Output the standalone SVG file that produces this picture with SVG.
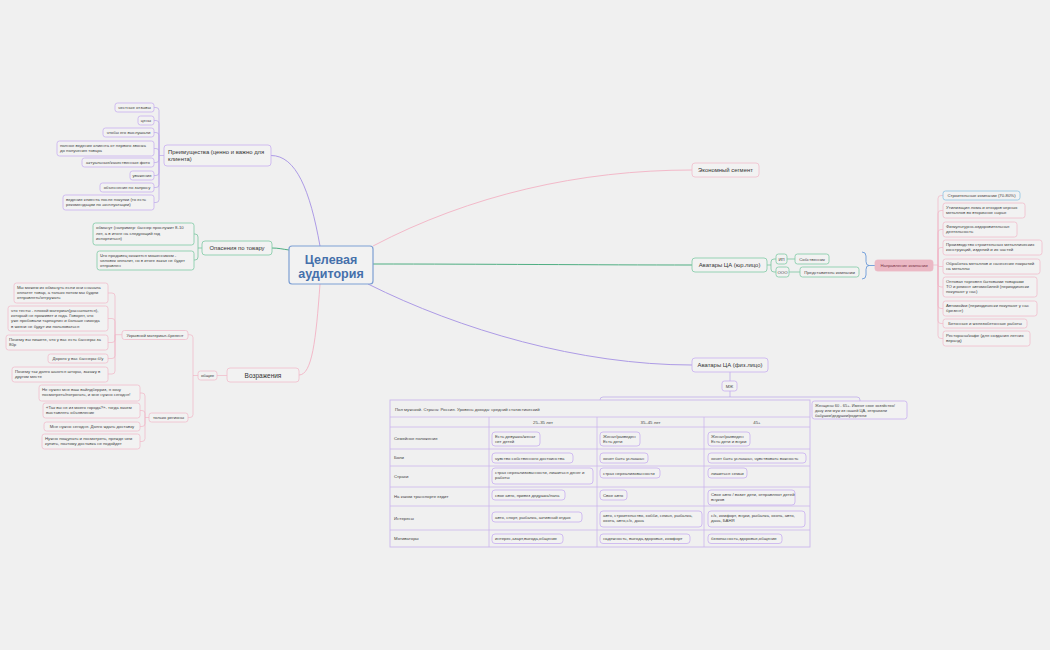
<svg xmlns="http://www.w3.org/2000/svg" width="1050" height="650" viewBox="0 0 1050 650">
<style>
text{font-family:"Liberation Sans",Arial,sans-serif;fill:#444;stroke:none}
.t{font-size:4.3px}
.m{font-size:5.9px;fill:#333}
.c{text-anchor:middle}
rect{fill:#f2f2f2;stroke-width:.8}
.p{stroke:#c8aef0}
.g{stroke:#7fcaa4}
.k{stroke:#f1bccb}
.b{stroke:#8cc3e3}
.lp{fill:none;stroke:#b9a5ea;stroke-width:.7}
.lg{fill:none;stroke:#6cbf95;stroke-width:.7}
.lk{fill:none;stroke:#f0b6c6;stroke-width:.7}
.Lp{fill:none;stroke:#ad9be6;stroke-width:1}
.Lg{fill:none;stroke:#4fae82;stroke-width:1}
.Lk{fill:none;stroke:#f3b9c9;stroke-width:1}
.tb{fill:none;stroke:#cbb6ec;stroke-width:.8}
</style>
<rect x="0" y="0" width="1050" height="650" style="fill:#f0f0f0;stroke:none"/>

<g id="connectors">
<path class="Lp" d="M271,155.5C296,155.5 310,190 320,246"/>
<path class="Lg" d="M289,250C282,249 278,248 272,248"/>
<path class="Lk" d="M320,284C316,340 312,375 299,375"/>
<path class="Lk" d="M373,246C470,195 580,170 692,170"/>
<path class="Lg" d="M373,264C480,264 600,265 692,265"/>
<path class="Lp" d="M368,284C460,330 580,365 692,365"/>
<g class="lp">
<path d="M164,155.5H159M159,155.5V110.5Q159,107.5 156,107.5H154M159,155.5V123.5Q159,120.5 156,120.5H154M159,155.5V135.5Q159,132.5 156,132.5H154M159,155.5V151.5Q159,148.5 156,148.5H154M159,155.5V159.5Q159,162.5 156,162.5H154M159,155.5V172.5Q159,175.5 156,175.5H154M159,155.5V184.5Q159,187.5 156,187.5H154M159,155.5V199.5Q159,202.5 156,202.5H154"/>
<path d="M730,372V381M730,391V397M600,400Q600,397 603,397H857Q860,397 860,400V401"/>
</g>
<g class="lg">
<path d="M202,248H198M198,248V237Q198,234 195,234H194M198,248V257Q198,260 195,260H194"/>
<path d="M767,265H771M771,265V262Q771,259 774,259H776M771,265V269Q771,272 774,272H776M787,259H795M789,272H800"/>
</g>
<g class="lk">
<path d="M227,375.5H217"/>
<path d="M198,375.5H193M193,375.5V337.7Q193,334.7 190,334.7H188M193,375.5V414.5Q193,417.5 190,417.5H188"/>
<path d="M122,334.7H115M115,334.7V296Q115,293 112,293H108M115,334.7V321.5Q115,318.5 112,318.5H108M115,334.7V339.5Q115,342.5 112,342.5H108M115,334.7V355.5Q115,358.5 112,358.5H108M115,334.7V371Q115,374 112,374H108"/>
<path d="M149,417.5H145M145,417.5V396Q145,393 142,393H140M145,417.5V413.5Q145,410.5 142,410.5H140M145,417.5V423.5Q145,426.5 142,426.5H140M145,417.5V438.5Q145,441.5 142,441.5H140"/>
<path d="M933,265H938M938,265V198.5Q938,195.5 941,195.5H943M938,265V213.5Q938,210.5 941,210.5H943M938,265V232.5Q938,229.5 941,229.5H943M938,265V250.5Q938,247.5 941,247.5H943M938,265V266.5H943M938,265V284Q938,287 941,287H943M938,265V305.5Q938,308.5 941,308.5H943M938,265V320.5Q938,323.5 941,323.5H943M938,265V335.5Q938,338.5 941,338.5H943"/>
</g>
<path d="M862,252Q866,252 866,256V261.5Q866,265.5 869,265.5Q866,265.5 866,269.5V275Q866,279 862,279M869,265.5H875" fill="none" stroke="#5b8fd6" stroke-width=".8"/>
</g>

<g id="center">
<rect x="289" y="246" width="84" height="38" rx="3" style="stroke:#7d9fd3;stroke-width:1.2"/>
<text x="331" y="264" class="c" style="font-size:12.5px;font-weight:bold;fill:#4570ab">Целевая</text>
<text x="331" y="278" class="c" style="font-size:12.5px;font-weight:bold;fill:#4570ab">аудитория</text>
</g>

<g id="advantages">
<rect class="p" x="164" y="145" width="107" height="21" rx="3"/>
<text class="m" x="168" y="153.5">Преимущества (ценно и важно для</text>
<text class="m" x="168" y="161">клиента)</text>
</g>
<g id="adv1"><rect class="p" x="115" y="103" width="39" height="9" rx="2.5"/><text class="t c" x="134.5" y="109.3">честные отзывы</text></g>
<g id="adv2"><rect class="p" x="138" y="116" width="16" height="9" rx="2.5"/><text class="t c" x="146" y="122.3">цены</text></g>
<g id="adv3"><rect class="p" x="103" y="128" width="51" height="9" rx="2.5"/><text class="t c" x="128.5" y="134.3">чтобы его выслушали</text></g>
<g id="adv4"><rect class="p" x="57" y="141" width="97" height="15" rx="2.5"/><text class="t" x="60" y="146.6">полное ведение клиента от первого звонка</text><text class="t" x="60" y="151.9">до получения товара</text></g>
<g id="adv5"><rect class="p" x="82" y="158" width="72" height="9" rx="2.5"/><text class="t c" x="118" y="164.3">актуальные/качественные фото</text></g>
<g id="adv6"><rect class="p" x="130" y="171" width="24" height="9" rx="2.5"/><text class="t c" x="142" y="177.3">уважение</text></g>
<g id="adv7"><rect class="p" x="100" y="183" width="54" height="9" rx="2.5"/><text class="t c" x="127" y="189.3">объяснения по запросу</text></g>
<g id="adv8"><rect class="p" x="63" y="195" width="91" height="15" rx="2.5"/><text class="t" x="66" y="200.6">ведение клиента после покупки (то есть</text><text class="t" x="66" y="205.9">рекомендации по эксплуатации)</text></g>

<g id="fears">
<rect class="g" x="202" y="241" width="70" height="14" rx="3"/>
<text class="m c" x="237" y="250.2">Опасения по товару</text>
</g>
<g id="fear1"><rect class="g" x="93" y="223" width="101" height="22" rx="2.5"/><text class="t" x="96" y="229.3">обманут (например: баннер прослужит 8-10</text><text class="t" x="96" y="234.6">лет, а в итоге на следующий год</text><text class="t" x="96" y="239.9">испортиться)</text></g>
<g id="fear2"><rect class="g" x="97" y="251" width="97" height="19" rx="2.5"/><text class="t" x="100" y="256.8">Что продавец окажется мошенником -</text><text class="t" x="100" y="262.1">человек оплатит, но в итоге заказ не будет</text><text class="t" x="100" y="267.4">отправлен</text></g>

<g id="objections">
<rect class="k" x="227" y="368" width="72" height="14" rx="3"/>
<text class="c" x="263" y="377.5" style="font-size:6.5px;fill:#333">Возражения</text>
</g>
<g id="general"><rect class="k" x="198" y="371" width="19" height="9" rx="2.5"/><text class="t c" x="207.5" y="377.3">общие</text></g>
<g id="tarp"><rect class="k" x="122" y="330.5" width="66" height="9" rx="2.5"/><text class="t c" x="155" y="336.8">Укрывной материал-брезент</text></g>
<g id="regions"><rect class="k" x="149" y="413" width="39" height="9" rx="2.5"/><text class="t c" x="168.5" y="419.3">только регионы</text></g>
<g id="tarp1"><rect class="k" x="14" y="283" width="94" height="20" rx="2.5"/><text class="t" x="17" y="288.8">Мы можем их обмануть если они сначала</text><text class="t" x="17" y="294.1">оплатят товар, а только потом мы будем</text><text class="t" x="17" y="299.4">отправлять/отгружать</text></g>
<g id="tarp2"><rect class="k" x="8" y="306" width="100" height="25" rx="2.5"/><text class="t" x="11" y="311.8">что тенты - плохой материал(рассыпается),</text><text class="t" x="11" y="317.1">который не проживет и года. Говорят, что</text><text class="t" x="11" y="322.4">уже пробовали тарпаулин и больше никогда</text><text class="t" x="11" y="327.7">в жизни не будут им пользоваться</text></g>
<g id="tarp3"><rect class="k" x="6" y="335" width="102" height="15" rx="2.5"/><text class="t" x="9" y="340.6">Почему вы пишете, что у вас есть баннеры за</text><text class="t" x="9" y="345.9">80р</text></g>
<g id="tarp4"><rect class="k" x="48" y="354" width="60" height="9" rx="2.5"/><text class="t c" x="78" y="360.3">Дорого у вас баннеры б/у</text></g>
<g id="tarp5"><rect class="k" x="12" y="367" width="96" height="15" rx="2.5"/><text class="t" x="15" y="372.6">Почему так долго шьются шторы, закажу в</text><text class="t" x="15" y="377.9">другом месте</text></g>
<g id="reg1"><rect class="k" x="39" y="385" width="101" height="16" rx="2.5"/><text class="t" x="42" y="391">Не нужен мне ваш вайлдберриз, я хочу</text><text class="t" x="42" y="396.3">посмотреть/потрогать, и мне нужно сегодня!</text></g>
<g id="reg2"><rect class="k" x="43" y="403" width="97" height="15" rx="2.5"/><text class="t" x="46" y="408.6">«Так вы не из моего города?»- тогда зачем</text><text class="t" x="46" y="413.9">выставлять объявление</text></g>
<g id="reg3"><rect class="k" x="44" y="422" width="96" height="9" rx="2.5"/><text class="t c" x="92" y="428.3">Мне нужно сегодня. Долго ждать доставку</text></g>
<g id="reg4"><rect class="k" x="42" y="434" width="98" height="15" rx="2.5"/><text class="t" x="45" y="439.6">Нужно пощупать и посмотреть, прежде чем</text><text class="t" x="45" y="444.9">купить, поэтому доставка не подойдет</text></g>

<g id="economy"><rect class="k" x="692" y="163" width="67" height="14" rx="3"/><text class="m c" x="725.5" y="172.2">Экономный сегмент</text></g>

<g id="legal"><rect class="g" x="692" y="258" width="75" height="14" rx="3"/><text class="m c" x="729.5" y="267.2">Аватары ЦА (юр.лицо)</text></g>
<g id="ip"><rect class="g" x="776" y="254" width="11" height="10" rx="2.5"/><text class="t c" x="781.5" y="260.6">ИП</text></g>
<g id="ooo"><rect class="g" x="776" y="267" width="13" height="10" rx="2.5"/><text class="t c" x="782.5" y="273.6">ООО</text></g>
<g id="owner"><rect class="g" x="795" y="254" width="34" height="10" rx="2.5"/><text class="t c" x="812" y="260.6">Собственник</text></g>
<g id="rep"><rect class="g" x="800" y="267" width="59" height="10" rx="2.5"/><text class="t c" x="829.5" y="273.6">Представитель компании</text></g>

<g id="direction"><rect x="875" y="260" width="58" height="11" rx="2.5" style="fill:#ebb8c4;stroke:#ebb8c4"/><text class="t c" x="904" y="267" style="fill:#7a3445">Направление компании</text></g>
<g id="dir1"><rect class="b" x="943" y="191" width="77" height="9" rx="2.5"/><text class="t c" x="981.5" y="197.3">Строительные компании (70-80%)</text></g>
<g id="dir2"><rect class="k" x="943" y="203" width="82" height="15" rx="2.5"/><text class="t" x="946" y="208.6">Утилизация лома и отходов черных</text><text class="t" x="946" y="213.9">металлов во вторичное сырье</text></g>
<g id="dir3"><rect class="k" x="943" y="222" width="74" height="15" rx="2.5"/><text class="t" x="946" y="227.6">Физкультурно-оздоровительная</text><text class="t" x="946" y="232.9">деятельность</text></g>
<g id="dir4"><rect class="k" x="943" y="240" width="99" height="15" rx="2.5"/><text class="t" x="946" y="245.6">Производство строительных металлических</text><text class="t" x="946" y="250.9">конструкций, изделий и их частей</text></g>
<g id="dir5"><rect class="k" x="943" y="259" width="97" height="15" rx="2.5"/><text class="t" x="946" y="264.6">Обработка металлов и нанесение покрытий</text><text class="t" x="946" y="269.9">на металлы</text></g>
<g id="dir6"><rect class="k" x="943" y="277" width="94" height="20" rx="2.5"/><text class="t" x="946" y="282.8">Оптовая торговля бытовыми товарами</text><text class="t" x="946" y="288.1">ТО и ремонт автомобилей (периодически</text><text class="t" x="946" y="293.4">покупают у нас)</text></g>
<g id="dir7"><rect class="k" x="943" y="301" width="94" height="15" rx="2.5"/><text class="t" x="946" y="306.6">Автомойки (периодически покупают у нас</text><text class="t" x="946" y="311.9">брезент)</text></g>
<g id="dir8"><rect class="k" x="943" y="319" width="84" height="9" rx="2.5"/><text class="t c" x="985" y="325.3">Бетонные и железобетонные работы</text></g>
<g id="dir9"><rect class="k" x="943" y="331" width="87" height="15" rx="2.5"/><text class="t" x="946" y="336.6">Рестораны/кафе (для создания летних</text><text class="t" x="946" y="341.9">веранд)</text></g>

<g id="physical"><rect class="p" x="692" y="358" width="76" height="14" rx="3"/><text class="m c" x="730" y="367.2">Аватары ЦА (физ.лицо)</text></g>
<g id="mzh"><rect class="p" x="722" y="381" width="15" height="10" rx="2.5"/><text class="t c" x="729.5" y="387.6">МЖ</text></g>
<g id="women"><rect class="p" x="812" y="401" width="95" height="18" rx="2.5"/><text class="t" x="815" y="406.6" style="font-size:4px">Женщины 60 - 65+. Имеют свое хозяйство/</text><text class="t" x="815" y="411.6" style="font-size:4px">дачу или муж из нашей ЦА, отправили</text><text class="t" x="815" y="416.6" style="font-size:4px">бабушки/дедушки/родители</text></g>

<g id="table">
<rect x="390" y="400" width="420" height="147" style="fill:#f0f0f0;stroke:#cbb6ec;stroke-width:.9"/>
<path class="tb" d="M390,417H810M390,427H810M390,449H810M390,466H810M390,487H810M390,506H810M390,530H810M489,417V547M597,417V547M704,417V547"/>
<text class="t" x="395" y="410.5">Пол мужской. Страна: Россия. Уровень дохода: средний статистический</text>
<text class="t c" x="543" y="423.8">25–35 лет</text>
<text class="t c" x="650.5" y="423.8">35–45 лет</text>
<text class="t c" x="757" y="423.8">45+</text>
<text class="t" x="394" y="439.5">Семейное положение</text>
<text class="t" x="394" y="459">Боли</text>
<text class="t" x="394" y="478">Страхи</text>
<text class="t" x="394" y="498">На каком транспорте ездит</text>
<text class="t" x="394" y="519.5">Интересы</text>
<text class="t" x="394" y="540">Мотиваторы</text>
<g id="cells">
<rect class="p" x="492" y="432" width="48" height="14" rx="3"/><text class="t" x="495" y="437.7">Есть девушка/женат</text><text class="t" x="495" y="443">нет детей</text>
<rect class="p" x="600" y="432" width="40" height="14" rx="3"/><text class="t" x="603" y="437.7">Женат/разведен</text><text class="t" x="603" y="443">Есть дети</text>
<rect class="p" x="708" y="432" width="42" height="14" rx="3"/><text class="t" x="711" y="437.7">Женат/разведен</text><text class="t" x="711" y="443">Есть дети и внуки</text>
<rect class="p" x="492" y="453" width="81" height="10" rx="3"/><text class="t" x="495" y="459.6">чувство собственного достоинства</text>
<rect class="p" x="600" y="453" width="48" height="10" rx="3"/><text class="t" x="603" y="459.6">хочет быть услышан</text>
<rect class="p" x="708" y="453" width="98" height="10" rx="3"/><text class="t" x="711" y="459.6">хочет быть услышан, чувствовать важность</text>
<rect class="p" x="492" y="468" width="101" height="16" rx="3"/><text class="t" x="495" y="473.8">страх нереализованности, лишиться денег и</text><text class="t" x="495" y="479.1">работы</text>
<rect class="p" x="600" y="468" width="60" height="10" rx="3"/><text class="t" x="603" y="474.6">страх нереализованности</text>
<rect class="p" x="708" y="468" width="39" height="10" rx="3"/><text class="t" x="711" y="474.6">лишиться семьи</text>
<rect class="p" x="492" y="490" width="73" height="10" rx="3"/><text class="t" x="495" y="496.6">свое авто, привез дедушка/папа</text>
<rect class="p" x="600" y="490" width="27" height="10" rx="3"/><text class="t" x="603" y="496.6">Свое авто</text>
<rect class="p" x="708" y="490" width="87" height="15" rx="3"/><text class="t" x="711" y="495.7">Свое авто / возит дети, отправляют детей</text><text class="t" x="711" y="501">внуков</text>
<rect class="p" x="492" y="512" width="90" height="10" rx="3"/><text class="t" x="495" y="518.6">авто, спорт, рыбалка, активный отдых</text>
<rect class="p" x="600" y="511" width="102" height="16" rx="3"/><text class="t" x="603" y="516.8">авто, строительство, хобби, семья, рыбалка,</text><text class="t" x="603" y="522.1">охота, авто,с/х, дача</text>
<rect class="p" x="708" y="511" width="97" height="16" rx="3"/><text class="t" x="711" y="516.8">с/х, комфорт, внуки,  рыбалка, охота, авто,</text><text class="t" x="711" y="522.1">дача, БАНЯ</text>
<rect class="p" x="492" y="534" width="71" height="9.5" rx="3"/><text class="t" x="495" y="540.3">интерес,азарт,выгода,общение</text>
<rect class="p" x="600" y="534" width="90" height="9.5" rx="3"/><text class="t" x="603" y="540.3">надежность, выгода,здоровье, комфорт</text>
<rect class="p" x="708" y="534" width="74" height="9.5" rx="3"/><text class="t" x="711" y="540.3">безопасность,здоровье,общение</text>
</g>
</g>
</svg>
